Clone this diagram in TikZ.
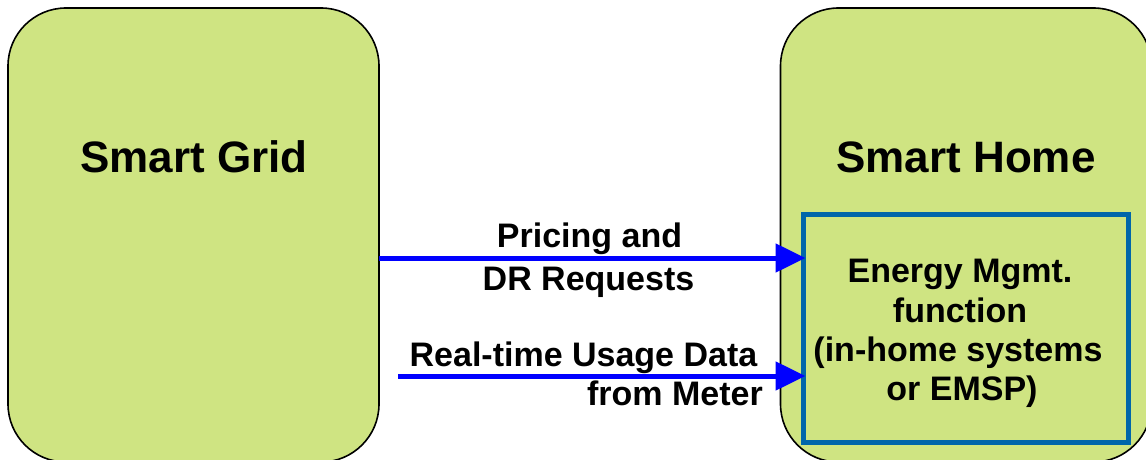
\documentclass[tikz,border=0pt]{standalone}
\usepackage{fontspec}
\setmainfont{Liberation Sans}
\usetikzlibrary{arrows.meta}
\definecolor{boxgreen}{RGB}{207,228,130}
\definecolor{emsblue}{RGB}{0,102,170}
\definecolor{arrowblue}{RGB}{0,0,255}
\begin{document}
\begin{tikzpicture}[x=1pt,y=-1pt,
  bigbox/.style={draw=black, line width=1.6pt, fill=boxgreen, rounded corners=58pt,
    minimum width=371pt, minimum height=454pt, inner sep=0pt},
  emsbox/.style={draw=emsblue, line width=5pt, minimum width=325pt, minimum height=228pt, inner sep=0pt},
  title/.style={font=\bfseries\fontsize{44}{50}\selectfont, anchor=base, inner sep=0pt},
  lbl/.style={font=\bfseries\fontsize{34}{40}\selectfont, anchor=base, inner sep=0pt},
  flow/.style={draw=arrowblue, line width=5pt, -{Triangle[length=30pt,width=28pt]}, shorten >=-5pt},
]
\useasboundingbox (0,0) rectangle (1146,460);
\clip (0,0) rectangle (1146,460);
% big boxes
\node[bigbox] (grid) at (193.5,235) {};
\node[bigbox] (home) at (966,235) {};
\node[title] (gridt) at (194,172) {Smart Grid};
\node[title] (homet) at (966,172) {Smart Home};
% inner EMS box
\node[emsbox] (ems) at (965.5,328) {};
\node[lbl] (e1) at (960,282) {Energy Mgmt.};
\node[lbl] (e2) at (960,322) {function};
\node[lbl] (e3) at (958,361) {(in-home systems};
\node[lbl] (e4) at (962,400) {or EMSP)};
% arrows
\coordinate (a1s) at (379,258);
\coordinate (a2s) at (398,376);
\draw[flow] (a1s) -- (ems.west |- a1s);
\draw[flow] (a2s) -- (ems.west |- a2s);
% arrow labels
\node[lbl] (p1) at (589.5,247) {Pricing and};
\node[lbl] (p2) at (588.5,290) {DR Requests};
\node[lbl] (r1) at (583.5,366) {Real-time Usage Data};
\node[lbl, anchor=base east] (r2) at (763,405) {from Meter};
\end{tikzpicture}
\end{document}
